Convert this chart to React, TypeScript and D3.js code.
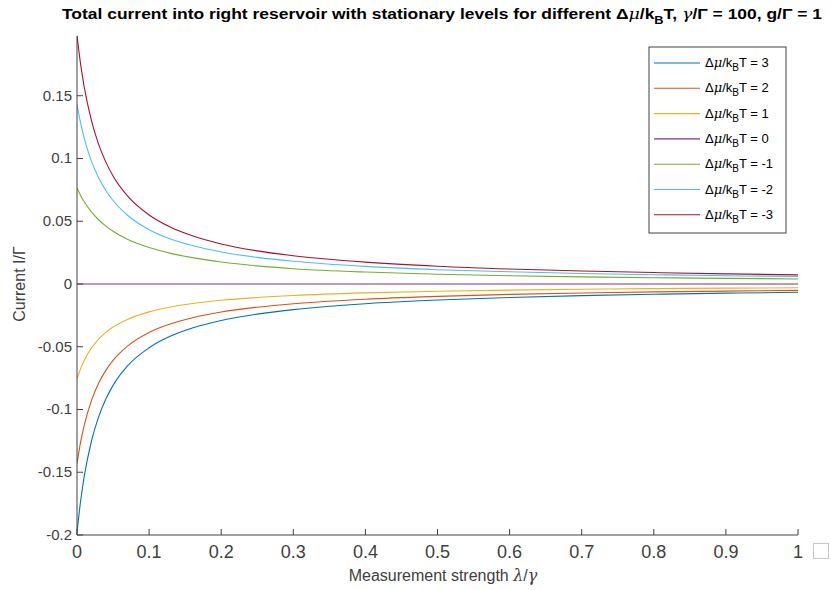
import React from "react";
import * as d3 from "d3";

const lambdas = [0, 0.005, 0.01, 0.02, 0.03, 0.04, 0.05, 0.07, 0.1, 0.13, 0.16, 0.2, 0.25, 0.3, 0.4, 0.5, 0.6, 0.7, 0.8, 0.9, 1.0];

const series3 = [-0.198, -0.1729, -0.1535, -0.1253, -0.1059, -0.0917, -0.0808, -0.0653, -0.0508, -0.0415, -0.0351, -0.0291, -0.024, -0.0204, -0.0157, -0.0128, -0.0108, -0.0093, -0.0082, -0.0073, -0.0066];
const series2 = [-0.143, -0.126, -0.1126, -0.0929, -0.079, -0.0688, -0.0609, -0.0495, -0.0386, -0.0317, -0.0269, -0.0223, -0.0185, -0.0157, -0.0121, -0.0099, -0.0083, -0.0072, -0.0063, -0.0057, -0.0051];
const series1 = [-0.0755, -0.0674, -0.0609, -0.051, -0.0439, -0.0385, -0.0343, -0.0282, -0.0222, -0.0183, -0.0156, -0.013, -0.0108, -0.0092, -0.0071, -0.0058, -0.0049, -0.0042, -0.0037, -0.0033, -0.003];
const series0 = [0, 0, 0, 0, 0, 0, 0, 0, 0, 0, 0, 0, 0, 0, 0, 0, 0, 0, 0, 0, 0];
const seriesM1 = [0.0765, 0.0706, 0.0656, 0.0575, 0.0512, 0.0461, 0.042, 0.0356, 0.029, 0.0244, 0.021, 0.0175, 0.0144, 0.0122, 0.0095, 0.0078, 0.0066, 0.0057, 0.005, 0.0045, 0.004];
const seriesM2 = [0.143, 0.1283, 0.1163, 0.0979, 0.0846, 0.0745, 0.0665, 0.0548, 0.0433, 0.0358, 0.0306, 0.0255, 0.0212, 0.0181, 0.014, 0.0114, 0.0097, 0.0084, 0.0074, 0.0066, 0.006];
const seriesM3 = [0.198, 0.1752, 0.1571, 0.1303, 0.1112, 0.0971, 0.0861, 0.0702, 0.055, 0.0452, 0.0384, 0.0319, 0.0264, 0.0225, 0.0174, 0.0141, 0.0119, 0.0103, 0.0091, 0.0081, 0.0073];

const seriesLabels = ["3", "2", "1", "0", "-1", "-2", "-3"];
const seriesValues = [series3, series2, series1, series0, seriesM1, seriesM2, seriesM3];
const colors = ["#0072BD", "#D95319", "#EDB120", "#7E2F8E", "#77AC30", "#4DBEEE", "#A2142F"];

const xTicks = [0, 0.1, 0.2, 0.3, 0.4, 0.5, 0.6, 0.7, 0.8, 0.9, 1];
const yTicks = [-0.2, -0.15, -0.1, -0.05, 0, 0.05, 0.1, 0.15];
const yTickLabels = ["-0.2", "-0.15", "-0.1", "-0.05", "0", "0.05", "0.1", "0.15"];

const W = 831, H = 590;
const left = 77, right = 798, top = 36, bottom = 535;

export default function App() {
  const x = d3.scaleLinear().domain([0, 1]).range([left, right]);
  const y = d3.scaleLinear().domain([-0.2, 0.1976]).range([bottom, top]);
  const line = d3.line<[number, number]>().x(d => x(d[0])).y(d => y(d[1])).curve(d3.curveMonotoneX);
  const axisColor = "#404040";
  const font = "'Liberation Sans', Arial, Helvetica, sans-serif";
  const sym = "'DejaVu Serif', 'Liberation Serif', serif";

  const legX = 649, legY = 47, legW = 137, legH = 186;
  const rowY = (i: number) => 63 + i * 25.3;

  return (
    <svg width={W} height={H} style={{ position: "absolute", left: 0, top: 0, background: "#fff" }} fontFamily={font}>
      <rect x={0} y={0} width={W} height={H} fill="#fff" />
      <text x={62} y={19} fontSize={15} fontWeight="bold" fill="#000" textLength={760} lengthAdjust="spacingAndGlyphs">
        Total current into right reservoir with stationary levels for different Δ<tspan fontFamily={sym} fontStyle="italic" fontWeight="normal">μ</tspan>/k<tspan fontSize={11} dy={5}>B</tspan><tspan dy={-5}>T, </tspan><tspan fontFamily={sym} fontStyle="italic" fontWeight="normal">γ</tspan>/Γ = 100, g/Γ = 1
      </text>

      <defs>
        <clipPath id="clip"><rect x={left} y={top - 2} width={right - left + 1} height={bottom - top + 4} /></clipPath>
      </defs>
      <g clipPath="url(#clip)">
        {seriesValues.map((vals, i) => (
          <path key={i} d={line(lambdas.map((l, j) => [l, vals[j]] as [number, number])) || ""} fill="none" stroke={colors[i]} strokeWidth={1.1} />
        ))}
      </g>

      <line x1={left} y1={top} x2={left} y2={bottom} stroke={axisColor} strokeWidth={1} />
      <line x1={left} y1={bottom} x2={right} y2={bottom} stroke={axisColor} strokeWidth={1} />
      {yTicks.map((t, i) => (
        <g key={i}>
          <line x1={left} x2={left + 6} y1={y(t)} y2={y(t)} stroke={axisColor} />
          <text x={left - 5} y={y(t) + 5} textAnchor="end" fontSize={15} fill={axisColor}>{yTickLabels[i]}</text>
        </g>
      ))}
      {xTicks.map((t, i) => (
        <g key={i}>
          <line x1={x(t)} x2={x(t)} y1={bottom} y2={bottom - 6} stroke={axisColor} />
          <text x={x(t)} y={558} textAnchor="middle" fontSize={18} fill={axisColor}>{String(t)}</text>
        </g>
      ))}
      <text x={443} y={581} textAnchor="middle" fontSize={16} fill={axisColor}>
        Measurement strength <tspan fontFamily={sym} fontStyle="italic">λ</tspan>/<tspan fontFamily={sym} fontStyle="italic">γ</tspan>
      </text>
      <text transform={`translate(25,${284}) rotate(-90)`} textAnchor="middle" fontSize={16} fill={axisColor}>
        Current I/Γ
      </text>

      <rect x={legX} y={legY} width={legW} height={legH} fill="#fff" stroke={axisColor} strokeWidth={1} />
      {seriesLabels.map((lab, i) => (
        <g key={i}>
          <line x1={654} x2={700} y1={rowY(i)} y2={rowY(i)} stroke={colors[i]} strokeWidth={1.1} />
          <text x={705} y={rowY(i) + 4} fontSize={13} fill="#000">
            Δ<tspan fontFamily={sym} fontStyle="italic">μ</tspan>/k<tspan fontSize={10} dy={4}>B</tspan><tspan dy={-4}>T = {lab}</tspan>
          </text>
        </g>
      ))}

      <rect x={813.5} y={543.5} width={15} height={15} fill="#fff" stroke="#c8c8c8" strokeWidth={1} />
    </svg>
  );
}
